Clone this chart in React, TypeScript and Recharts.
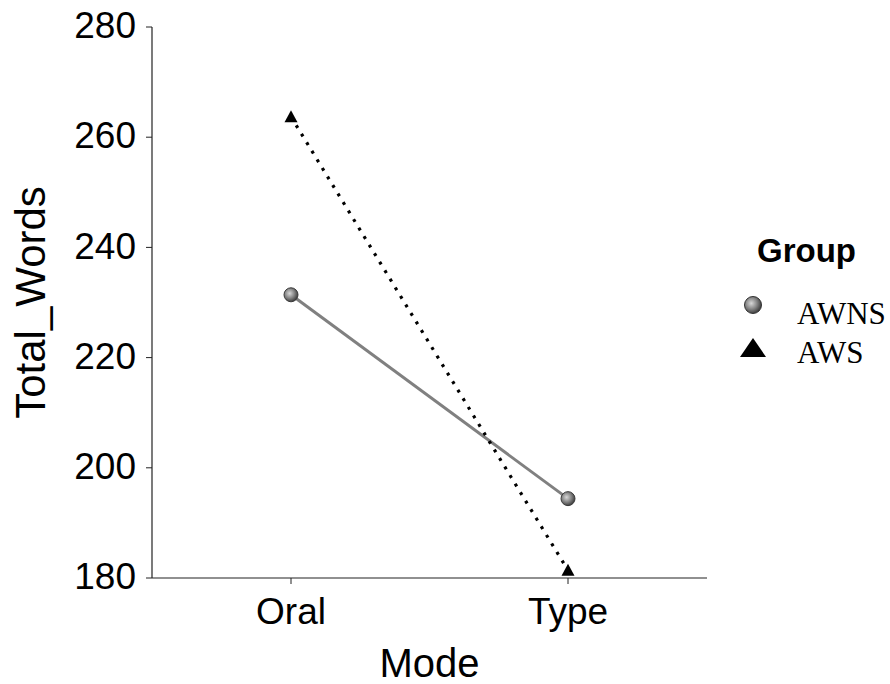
import { LineChart, Line, XAxis, YAxis, Legend } from "recharts";

const modes = ["Oral", "Type"];
const awns = [231.4, 194.4];
const aws = [263.7, 181.4];
const yTicks = [180, 200, 220, 240, 260, 280];

const data = modes.map((m, i) => ({ mode: m, AWNS: awns[i], AWS: aws[i] }));

const sans = "Arial, 'Liberation Sans', sans-serif";
const serif = "'Times New Roman', 'Liberation Serif', serif";

function BallDot(props: any) {
  const { cx, cy, index } = props;
  return (
    <circle key={`b-${index}`} cx={cx} cy={cy} r={7} fill="url(#ball)" stroke="#3a3a3a" strokeWidth={1} />
  );
}

function TriDot(props: any) {
  const { cx, cy, index } = props;
  const s = 6.5;
  return (
    <path
      key={`t-${index}`}
      d={`M${cx},${cy - s} L${cx + s},${cy + s - 1} L${cx - s},${cy + s - 1} Z`}
      fill="#000"
    />
  );
}

function GroupLegend() {
  return (
    <div style={{ position: "relative", width: 150, height: 140 }}>
      <div
        style={{
          position: "absolute",
          left: 17,
          top: -1,
          fontFamily: sans,
          fontWeight: "bold",
          fontSize: 33,
          lineHeight: "36px",
        }}
      >
        Group
      </div>
      <svg style={{ position: "absolute", left: 0, top: 60 }} width={30} height={70}>
        <defs>
          <radialGradient id="ballLeg" cx="40%" cy="40%" r="60%">
            <stop offset="0%" stopColor="#d8d8d8" />
            <stop offset="60%" stopColor="#808080" />
            <stop offset="100%" stopColor="#404040" />
          </radialGradient>
        </defs>
        <circle cx={13} cy={11} r={8.5} fill="url(#ballLeg)" stroke="#333" strokeWidth={1} />
        <path d="M13,44 L26,63 L0,63 Z" fill="#000" />
      </svg>
      <div
        style={{
          position: "absolute",
          left: 57,
          top: 62,
          fontFamily: serif,
          fontSize: 31,
          lineHeight: "36px",
        }}
      >
        AWNS
      </div>
      <div
        style={{
          position: "absolute",
          left: 57,
          top: 101,
          fontFamily: serif,
          fontSize: 31,
          lineHeight: "36px",
        }}
      >
        AWS
      </div>
    </div>
  );
}

export default function App() {
  return (
    <div style={{ position: "absolute", left: 0, top: 0, width: 890, height: 684, background: "#fff" }}>
      <LineChart
        width={890}
        height={684}
        data={data}
        margin={{ top: 27, right: 183, bottom: 0, left: 0 }}
      >
        <defs>
          <radialGradient id="ball" cx="40%" cy="40%" r="60%">
            <stop offset="0%" stopColor="#d8d8d8" />
            <stop offset="60%" stopColor="#808080" />
            <stop offset="100%" stopColor="#404040" />
          </radialGradient>
        </defs>
        <XAxis
          dataKey="mode"
          height={106}
          padding={{ left: 139, right: 139 }}
          axisLine={{ stroke: "#222", strokeWidth: 1.2 }}
          tickLine={{ stroke: "#222" }}
          tickSize={6}
          tickMargin={14}
          tick={{ fontSize: 37, fill: "#000", fontFamily: sans }}
          label={{
            value: "Mode",
            position: "insideBottom",
            offset: 7,
            style: { fontSize: 40, fill: "#000", fontFamily: sans },
          }}
        />
        <YAxis
          width={152}
          domain={[180, 280]}
          ticks={yTicks}
          allowDataOverflow
          axisLine={{ stroke: "#222", strokeWidth: 1.2 }}
          tickLine={{ stroke: "#222" }}
          tickSize={6}
          tickMargin={10}
          tick={{ fontSize: 37, fill: "#000", fontFamily: sans, dy: -2 }}
          label={{
            content: ({ viewBox }: any) => {
              const cy = viewBox.y + viewBox.height / 2;
              return (
                <text
                  x={45}
                  y={cy}
                  transform={`rotate(-90 45 ${cy})`}
                  textAnchor="middle"
                  fontSize={42}
                  fontFamily={sans}
                  fill="#000"
                >
                  Total_Words
                </text>
              );
            },
          }}
        />
        <Line
          dataKey="AWNS"
          stroke="#808080"
          strokeWidth={3}
          dot={BallDot}
          activeDot={false}
          isAnimationActive={false}
        />
        <Line
          dataKey="AWS"
          stroke="#000"
          strokeWidth={3.2}
          strokeDasharray="3 7"
          dot={TriDot}
          activeDot={false}
          isAnimationActive={false}
        />
        <Legend
          layout="vertical"
          align="center"
          verticalAlign="middle"
          wrapperStyle={{ left: 740, top: 234, width: 150 }}
          content={() => <GroupLegend />}
        />
      </LineChart>
    </div>
  );
}
